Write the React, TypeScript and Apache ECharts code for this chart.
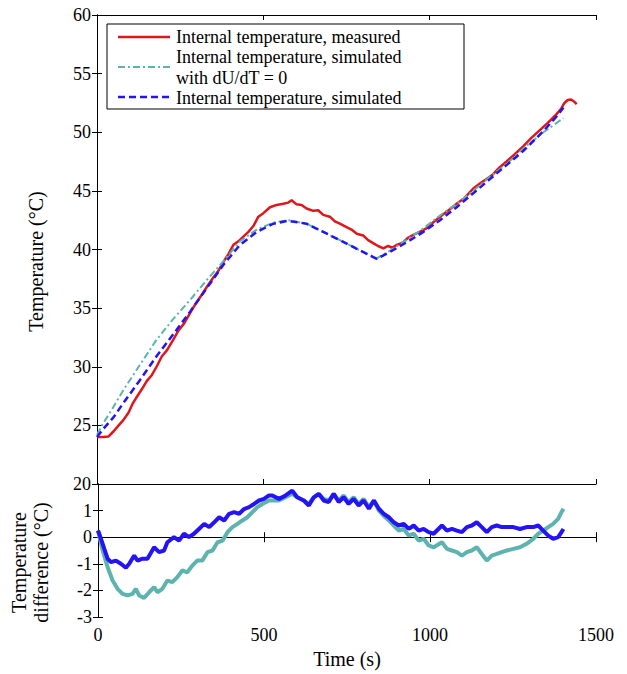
import React, { useEffect, useRef } from "react";
import * as echarts from "echarts";

// ---- Top panel: temperatures (°C) vs time (s) ----
const measuredT = [0, 20, 34, 50, 65, 79, 95, 108, 119, 135, 150, 165, 179, 195, 210, 229, 245, 262, 280, 297, 314, 330, 347, 363, 380, 395, 410, 425, 440, 455, 470, 485, 500, 520, 540, 560, 575, 585, 600, 615, 630, 650, 665, 680, 700, 715, 730, 750, 765, 781, 800, 815, 830, 845, 861, 875, 888, 901, 920, 935, 951, 970, 990, 1010, 1031, 1055, 1081, 1105, 1131, 1150, 1170, 1190, 1210, 1231, 1255, 1281, 1305, 1332, 1355, 1380, 1395, 1405, 1415, 1425, 1435, 1442];
const measuredV = [24.0, 24.0, 24.05, 24.5, 25.0, 25.45, 26.1, 26.9, 27.4, 28.1, 28.8, 29.3, 30.0, 30.9, 31.4, 32.3, 33.1, 33.7, 34.6, 35.4, 36.1, 36.8, 37.5, 38.1, 38.95, 39.6, 40.4, 40.7, 41.1, 41.5, 42.0, 42.8, 43.1, 43.6, 43.8, 43.9, 44.0, 44.2, 43.85, 43.8, 43.5, 43.3, 43.35, 42.95, 42.8, 42.4, 42.2, 41.9, 41.7, 41.35, 41.2, 40.8, 40.55, 40.3, 40.1, 40.3, 40.15, 40.4, 40.6, 41.0, 41.25, 41.5, 41.8, 42.3, 42.8, 43.3, 43.9, 44.4, 45.2, 45.6, 46.0, 46.4, 47.0, 47.5, 48.1, 48.8, 49.5, 50.2, 50.8, 51.5, 52.0, 52.5, 52.75, 52.8, 52.6, 52.4];

const simNoDUT = [0, 19, 50, 79, 130, 179, 230, 280, 330, 380, 430, 480, 530, 575, 630, 680, 730, 785, 841, 881, 930, 981, 1031, 1081, 1131, 1181, 1231, 1281, 1342, 1402];
const simNoDUV = [24.2, 25.2, 26.6, 28.0, 30.2, 32.3, 34.1, 35.7, 37.4, 39.0, 40.7, 41.7, 42.3, 42.5, 42.2, 41.5, 40.8, 40.0, 39.25, 39.9, 40.8, 41.8, 42.9, 43.9, 45.0, 46.2, 47.3, 48.6, 50.0, 51.2];

const simT = [0, 19, 50, 79, 130, 179, 230, 280, 330, 380, 430, 480, 530, 575, 630, 680, 730, 785, 841, 881, 930, 981, 1031, 1081, 1131, 1181, 1231, 1281, 1342, 1380, 1402];
const simV = [24.0, 24.7, 25.7, 26.9, 28.9, 30.9, 32.8, 34.7, 36.7, 38.7, 40.4, 41.5, 42.2, 42.45, 42.2, 41.5, 40.8, 40.0, 39.2, 39.8, 40.6, 41.5, 42.5, 43.6, 44.8, 46.0, 47.2, 48.4, 50.1, 51.3, 52.1];

// ---- Bottom panel: temperature differences (°C) ----
const diffSimT = [0, 9, 19, 29, 39, 54, 69, 84, 94, 109, 119, 134, 149, 169, 184, 199, 209, 229, 244, 259, 274, 289, 304, 320, 335, 350, 365, 380, 395, 410, 425, 440, 455, 470, 485, 500, 515, 525, 545, 565, 585, 600, 620, 635, 650, 665, 680, 695, 710, 725, 740, 755, 770, 785, 800, 816, 831, 846, 861, 876, 891, 906, 921, 936, 951, 966, 981, 996, 1011, 1036, 1051, 1066, 1081, 1096, 1111, 1126, 1141, 1156, 1171, 1186, 1201, 1216, 1231, 1251, 1271, 1291, 1311, 1326, 1341, 1356, 1371, 1386, 1396, 1402];
const diffSimV = [0.25, -0.06, -0.44, -0.81, -0.94, -0.88, -1.0, -1.15, -1.0, -0.69, -0.88, -0.81, -0.81, -0.38, -0.56, -0.5, -0.19, 0.0, -0.13, 0.13, 0.0, 0.13, 0.31, 0.5, 0.38, 0.56, 0.75, 0.63, 0.88, 0.94, 0.88, 1.06, 1.13, 1.25, 1.38, 1.44, 1.57, 1.57, 1.44, 1.57, 1.75, 1.5, 1.38, 1.19, 1.5, 1.63, 1.38, 1.32, 1.63, 1.32, 1.5, 1.25, 1.44, 1.19, 1.38, 1.07, 1.38, 1.07, 0.88, 0.75, 0.56, 0.44, 0.5, 0.31, 0.44, 0.25, 0.31, 0.19, 0.13, 0.44, 0.25, 0.31, 0.25, 0.19, 0.38, 0.44, 0.56, 0.38, 0.19, 0.38, 0.44, 0.38, 0.38, 0.38, 0.31, 0.38, 0.38, 0.44, 0.25, 0.06, -0.06, 0.0, 0.19, 0.31];

const diffNoDUT = [0, 14, 29, 44, 59, 74, 89, 104, 114, 124, 139, 154, 169, 179, 194, 209, 224, 239, 254, 269, 284, 299, 314, 330, 345, 360, 375, 390, 405, 420, 435, 450, 465, 480, 495, 515, 525, 545, 565, 585, 600, 620, 635, 650, 665, 680, 695, 710, 725, 740, 755, 770, 785, 800, 816, 831, 846, 861, 876, 891, 906, 921, 936, 951, 966, 981, 996, 1011, 1036, 1051, 1066, 1081, 1096, 1111, 1126, 1141, 1156, 1171, 1186, 1201, 1216, 1231, 1251, 1271, 1291, 1311, 1326, 1341, 1356, 1371, 1386, 1396, 1402];
const diffNoDUV = [0.25, -0.5, -1.13, -1.63, -1.94, -2.13, -2.19, -2.13, -1.94, -2.19, -2.28, -2.07, -1.88, -2.07, -1.94, -1.63, -1.69, -1.5, -1.25, -1.32, -1.07, -0.88, -0.88, -0.56, -0.5, -0.19, -0.13, 0.19, 0.38, 0.5, 0.63, 0.75, 0.94, 1.13, 1.25, 1.38, 1.38, 1.38, 1.5, 1.63, 1.5, 1.38, 1.25, 1.5, 1.63, 1.44, 1.38, 1.63, 1.38, 1.57, 1.32, 1.5, 1.25, 1.44, 1.13, 1.38, 1.0, 0.8, 0.63, 0.44, 0.25, 0.31, 0.06, 0.13, -0.13, -0.06, -0.31, -0.38, -0.19, -0.44, -0.5, -0.56, -0.69, -0.56, -0.5, -0.38, -0.63, -0.88, -0.69, -0.63, -0.56, -0.5, -0.44, -0.38, -0.25, -0.06, 0.13, 0.25, 0.38, 0.5, 0.69, 0.94, 1.07];

const xTicks = [0, 500, 1000, 1500];
const topYTicks = [20, 25, 30, 35, 40, 45, 50, 55, 60];
const bottomYTicks = [-3, -2, -1, 0, 1, 2];

const legendNames = [
  "Internal temperature, measured",
  "Internal temperature, simulated",
  "with dU/dT = 0",
  "Internal temperature, simulated",
];

const RED = "#e0161c";
const CYAN = "#5db4ae";
const BLUE = "#2414f5";
const FONT = "Liberation Serif";

const pairs = (t: number[], v: number[]) => t.map((x, i) => [x, v[i]]);

export default function App() {
  const ref = useRef<HTMLDivElement>(null);
  useEffect(() => {
    if (!ref.current) return;
    const chart = echarts.init(ref.current, undefined, { renderer: "svg" });
    const tick = { show: true, inside: true, length: 5, lineStyle: { color: "#000", width: 1 } };
    const hidden = { show: false };
    const xBase = (gridIndex: number, position: string, labels: boolean, name?: string) => ({
      type: "value",
      gridIndex,
      position,
      min: xTicks[0],
      max: xTicks[xTicks.length - 1],
      interval: 500,
      axisLine: { show: true, lineStyle: { color: "#000", width: 1 } },
      axisTick: tick,
      splitLine: hidden,
      axisLabel: labels
        ? { show: true, color: "#000", fontFamily: FONT, fontSize: 18, margin: 9, formatter: (v: number) => String(v) }
        : { show: false },
      name: name || "",
      nameLocation: "middle",
      nameGap: 32,
      nameTextStyle: { color: "#000", fontFamily: FONT, fontSize: 20 },
    });
    const yBase = (gridIndex: number, position: string, ticks: number[], labels: boolean, name?: string, nameGap?: number) => ({
      type: "value",
      gridIndex,
      position,
      min: ticks[0],
      max: ticks[ticks.length - 1],
      interval: ticks[1] - ticks[0],
      axisLine: { show: true, lineStyle: { color: "#000", width: 1 } },
      axisTick: tick,
      splitLine: hidden,
      axisLabel: labels
        ? { show: true, color: "#000", fontFamily: FONT, fontSize: 18, margin: 6, showMaxLabel: gridIndex === 0, formatter: (v: number) => String(v) }
        : { show: false },
      name: name || "",
      nameLocation: "middle",
      nameGap: nameGap || 0,
      nameRotate: 90,
      nameTextStyle: { color: "#000", fontFamily: FONT, fontSize: 20, lineHeight: 22, padding: [0, 24, 0, 0] },
    });

    chart.setOption({
      animation: false,
      backgroundColor: "#fff",
      grid: [
        { left: 97, top: 15, width: 499, height: 469, show: false },
        { left: 97, top: 484, width: 499, height: 133, show: false },
      ],
      xAxis: [
        xBase(0, "bottom", false),
        xBase(0, "top", false),
        xBase(1, "bottom", true, "Time (s)"),
        xBase(1, "top", false),
      ],
      yAxis: [
        yBase(0, "left", topYTicks, true, "Temperature (°C)", 50),
        yBase(0, "right", topYTicks, false),
        yBase(1, "left", bottomYTicks, true, "Temperature\ndifference (°C)", 46),
        yBase(1, "right", bottomYTicks, false),
      ],
      series: [
        {
          name: legendNames[0], type: "line", xAxisIndex: 0, yAxisIndex: 0, showSymbol: false,
          data: pairs(measuredT, measuredV), lineStyle: { color: RED, width: 2.5 }, z: 2,
        },
        {
          name: legendNames[1], type: "line", xAxisIndex: 0, yAxisIndex: 0, showSymbol: false,
          data: pairs(simNoDUT, simNoDUV), lineStyle: { color: CYAN, width: 2, type: [7, 3, 2, 3] }, z: 3,
        },
        {
          name: legendNames[3], type: "line", xAxisIndex: 0, yAxisIndex: 0, showSymbol: false,
          data: pairs(simT, simV), lineStyle: { color: BLUE, width: 2.5, type: [7, 4] }, z: 4,
        },
        {
          name: "diff no dU/dT", type: "line", xAxisIndex: 2, yAxisIndex: 2, showSymbol: false,
          data: pairs(diffNoDUT, diffNoDUV), lineStyle: { color: CYAN, width: 4 }, z: 2,
        },
        {
          name: "diff simulated", type: "line", xAxisIndex: 2, yAxisIndex: 2, showSymbol: false,
          data: pairs(diffSimT, diffSimV), lineStyle: { color: BLUE, width: 4 }, z: 3,
        },
      ],
      graphic: [
        {
          type: "group",
          z: 100,
          children: [
            { type: "rect", shape: { x: 107, y: 24, width: 357, height: 85 }, style: { fill: "#fff", stroke: "#000", lineWidth: 1 } },
            { type: "line", shape: { x1: 118, y1: 37, x2: 170, y2: 37 }, style: { stroke: RED, lineWidth: 2.5 } },
            { type: "line", shape: { x1: 118, y1: 67, x2: 170, y2: 67 }, style: { stroke: CYAN, lineWidth: 2, lineDash: [7, 3, 2, 3] } },
            { type: "line", shape: { x1: 118, y1: 97, x2: 170, y2: 97 }, style: { stroke: BLUE, lineWidth: 2.5, lineDash: [7, 4] } },
            { type: "text", x: 176, y: 37, style: { text: legendNames[0], fill: "#000", fontFamily: FONT, fontSize: 18, verticalAlign: "middle" } },
            { type: "text", x: 176, y: 57, style: { text: legendNames[1], fill: "#000", fontFamily: FONT, fontSize: 18, verticalAlign: "middle" } },
            { type: "text", x: 176, y: 78, style: { text: legendNames[2], fill: "#000", fontFamily: FONT, fontSize: 18, verticalAlign: "middle" } },
            { type: "text", x: 176, y: 98, style: { text: legendNames[3], fill: "#000", fontFamily: FONT, fontSize: 18, verticalAlign: "middle" } },
          ],
        },
      ],
    });
    return () => chart.dispose();
  }, []);
  return (
    <div
      ref={ref}
      style={{ position: "fixed", left: 0, top: 0, width: 627, height: 674, background: "#fff" }}
    />
  );
}
